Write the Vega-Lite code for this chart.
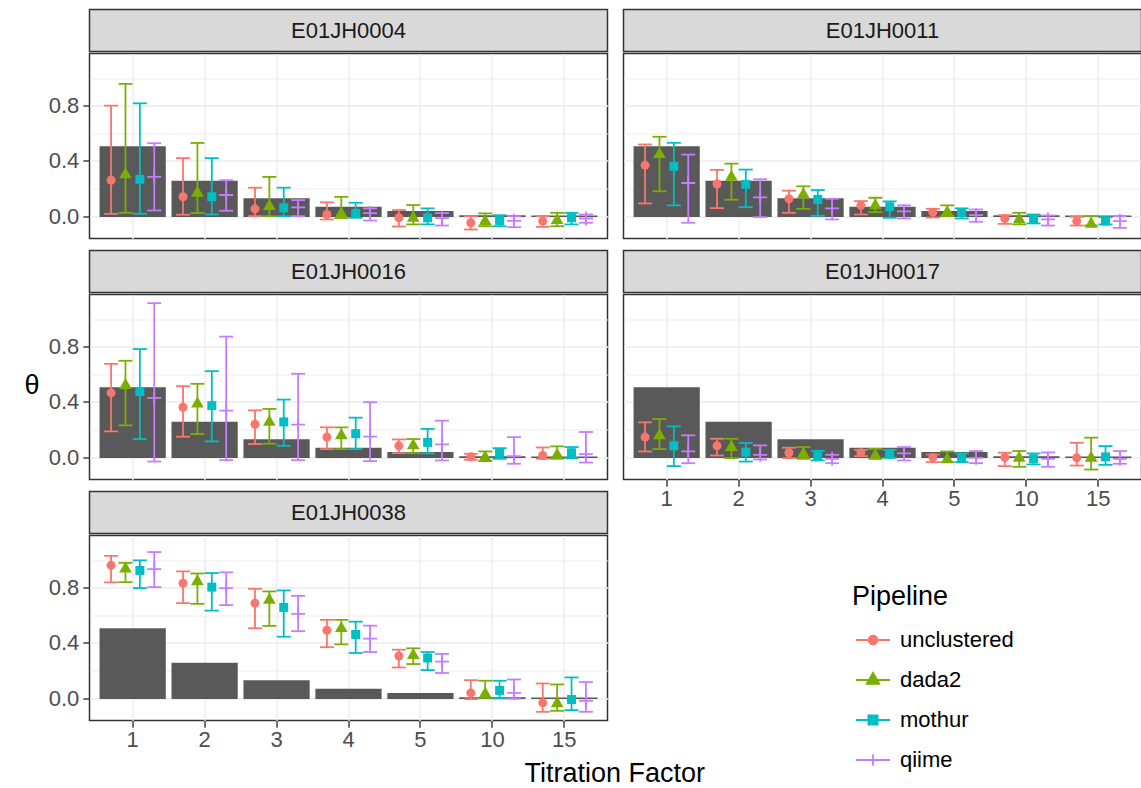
{
"$schema": "https://vega.github.io/schema/vega-lite/v6.json",
"padding": {"left": 22.5, "top": 8.5, "right": 0, "bottom": 0},
"datasets": {
"strips": [{"sample":"E01JH0004"},{"sample":"E01JH0011"},{"sample":"E01JH0016"},{"sample":"E01JH0017"},{"sample":"E01JH0038"}],
"expected": [{"titration":1,"expected":0.5},{"titration":2,"expected":0.25},{"titration":3,"expected":0.125},{"titration":4,"expected":0.0625},{"titration":5,"expected":0.03125},{"titration":10,"expected":0.000977},{"titration":15,"expected":0.0000305}],
"est": [
{"sample":"E01JH0004","pipeline":"unclustered","titration":1,"theta":0.26,"lo":0.017,"hi":0.8},
{"sample":"E01JH0004","pipeline":"dada2","titration":1,"theta":0.315,"lo":0.024,"hi":0.958},
{"sample":"E01JH0004","pipeline":"mothur","titration":1,"theta":0.267,"lo":0.017,"hi":0.817},
{"sample":"E01JH0004","pipeline":"qiime","titration":1,"theta":0.284,"lo":0.041,"hi":0.528},
{"sample":"E01JH0004","pipeline":"unclustered","titration":2,"theta":0.14,"lo":0.01,"hi":0.42},
{"sample":"E01JH0004","pipeline":"dada2","titration":2,"theta":0.18,"lo":0.022,"hi":0.53},
{"sample":"E01JH0004","pipeline":"mothur","titration":2,"theta":0.14,"lo":0.012,"hi":0.42},
{"sample":"E01JH0004","pipeline":"qiime","titration":2,"theta":0.153,"lo":0.039,"hi":0.26},
{"sample":"E01JH0004","pipeline":"unclustered","titration":3,"theta":0.053,"lo":0.0,"hi":0.206},
{"sample":"E01JH0004","pipeline":"dada2","titration":3,"theta":0.085,"lo":0.0,"hi":0.284},
{"sample":"E01JH0004","pipeline":"mothur","titration":3,"theta":0.06,"lo":0.0,"hi":0.206},
{"sample":"E01JH0004","pipeline":"qiime","titration":3,"theta":0.063,"lo":0.0,"hi":0.116},
{"sample":"E01JH0004","pipeline":"unclustered","titration":4,"theta":0.012,"lo":-0.024,"hi":0.1},
{"sample":"E01JH0004","pipeline":"dada2","titration":4,"theta":0.03,"lo":-0.015,"hi":0.14},
{"sample":"E01JH0004","pipeline":"mothur","titration":4,"theta":0.02,"lo":-0.012,"hi":0.097},
{"sample":"E01JH0004","pipeline":"qiime","titration":4,"theta":0.022,"lo":-0.032,"hi":0.056},
{"sample":"E01JH0004","pipeline":"unclustered","titration":5,"theta":-0.012,"lo":-0.075,"hi":0.044},
{"sample":"E01JH0004","pipeline":"dada2","titration":5,"theta":0.0,"lo":-0.06,"hi":0.08},
{"sample":"E01JH0004","pipeline":"mothur","titration":5,"theta":-0.012,"lo":-0.06,"hi":0.056},
{"sample":"E01JH0004","pipeline":"qiime","titration":5,"theta":-0.015,"lo":-0.068,"hi":0.022},
{"sample":"E01JH0004","pipeline":"unclustered","titration":10,"theta":-0.048,"lo":-0.097,"hi":0.0},
{"sample":"E01JH0004","pipeline":"dada2","titration":10,"theta":-0.024,"lo":-0.073,"hi":0.02},
{"sample":"E01JH0004","pipeline":"mothur","titration":10,"theta":-0.032,"lo":-0.073,"hi":0.007},
{"sample":"E01JH0004","pipeline":"qiime","titration":10,"theta":-0.034,"lo":-0.08,"hi":0.0},
{"sample":"E01JH0004","pipeline":"unclustered","titration":15,"theta":-0.036,"lo":-0.078,"hi":0.0},
{"sample":"E01JH0004","pipeline":"dada2","titration":15,"theta":-0.017,"lo":-0.073,"hi":0.024},
{"sample":"E01JH0004","pipeline":"mothur","titration":15,"theta":-0.012,"lo":-0.06,"hi":0.024},
{"sample":"E01JH0004","pipeline":"qiime","titration":15,"theta":-0.017,"lo":-0.048,"hi":0.012},
{"sample":"E01JH0011","pipeline":"unclustered","titration":1,"theta":0.368,"lo":0.092,"hi":0.519},
{"sample":"E01JH0011","pipeline":"dada2","titration":1,"theta":0.46,"lo":0.18,"hi":0.575},
{"sample":"E01JH0011","pipeline":"mothur","titration":1,"theta":0.361,"lo":0.078,"hi":0.531},
{"sample":"E01JH0011","pipeline":"qiime","titration":1,"theta":0.24,"lo":-0.048,"hi":0.446},
{"sample":"E01JH0011","pipeline":"unclustered","titration":2,"theta":0.233,"lo":0.058,"hi":0.335},
{"sample":"E01JH0011","pipeline":"dada2","titration":2,"theta":0.296,"lo":0.119,"hi":0.38},
{"sample":"E01JH0011","pipeline":"mothur","titration":2,"theta":0.23,"lo":0.065,"hi":0.337},
{"sample":"E01JH0011","pipeline":"qiime","titration":2,"theta":0.136,"lo":-0.007,"hi":0.267},
{"sample":"E01JH0011","pipeline":"unclustered","titration":3,"theta":0.126,"lo":0.024,"hi":0.184},
{"sample":"E01JH0011","pipeline":"dada2","titration":3,"theta":0.17,"lo":0.053,"hi":0.216},
{"sample":"E01JH0011","pipeline":"mothur","titration":3,"theta":0.121,"lo":0.002,"hi":0.189},
{"sample":"E01JH0011","pipeline":"qiime","titration":3,"theta":0.056,"lo":-0.024,"hi":0.126},
{"sample":"E01JH0011","pipeline":"unclustered","titration":4,"theta":0.078,"lo":0.012,"hi":0.109},
{"sample":"E01JH0011","pipeline":"dada2","titration":4,"theta":0.09,"lo":0.029,"hi":0.133},
{"sample":"E01JH0011","pipeline":"mothur","titration":4,"theta":0.068,"lo":-0.012,"hi":0.107},
{"sample":"E01JH0011","pipeline":"qiime","titration":4,"theta":0.034,"lo":-0.017,"hi":0.078},
{"sample":"E01JH0011","pipeline":"unclustered","titration":5,"theta":0.029,"lo":-0.01,"hi":0.053},
{"sample":"E01JH0011","pipeline":"dada2","titration":5,"theta":0.041,"lo":0.0,"hi":0.078},
{"sample":"E01JH0011","pipeline":"mothur","titration":5,"theta":0.027,"lo":-0.017,"hi":0.056},
{"sample":"E01JH0011","pipeline":"qiime","titration":5,"theta":0.007,"lo":-0.041,"hi":0.048},
{"sample":"E01JH0011","pipeline":"unclustered","titration":10,"theta":-0.017,"lo":-0.056,"hi":0.007},
{"sample":"E01JH0011","pipeline":"dada2","titration":10,"theta":-0.012,"lo":-0.06,"hi":0.024},
{"sample":"E01JH0011","pipeline":"mothur","titration":10,"theta":-0.024,"lo":-0.053,"hi":0.012},
{"sample":"E01JH0011","pipeline":"qiime","titration":10,"theta":-0.024,"lo":-0.068,"hi":0.005},
{"sample":"E01JH0011","pipeline":"unclustered","titration":15,"theta":-0.036,"lo":-0.068,"hi":-0.005},
{"sample":"E01JH0011","pipeline":"dada2","titration":15,"theta":-0.044,"lo":-0.068,"hi":0.0},
{"sample":"E01JH0011","pipeline":"mothur","titration":15,"theta":-0.036,"lo":-0.06,"hi":-0.007},
{"sample":"E01JH0011","pipeline":"qiime","titration":15,"theta":-0.036,"lo":-0.085,"hi":0.0},
{"sample":"E01JH0016","pipeline":"unclustered","titration":1,"theta":0.465,"lo":0.187,"hi":0.676},
{"sample":"E01JH0016","pipeline":"dada2","titration":1,"theta":0.533,"lo":0.23,"hi":0.698},
{"sample":"E01JH0016","pipeline":"mothur","titration":1,"theta":0.475,"lo":0.131,"hi":0.783},
{"sample":"E01JH0016","pipeline":"qiime","titration":1,"theta":0.429,"lo":-0.032,"hi":1.115},
{"sample":"E01JH0016","pipeline":"unclustered","titration":2,"theta":0.361,"lo":0.148,"hi":0.514},
{"sample":"E01JH0016","pipeline":"dada2","titration":2,"theta":0.4,"lo":0.167,"hi":0.531},
{"sample":"E01JH0016","pipeline":"mothur","titration":2,"theta":0.373,"lo":0.114,"hi":0.623},
{"sample":"E01JH0016","pipeline":"qiime","titration":2,"theta":0.337,"lo":-0.022,"hi":0.873},
{"sample":"E01JH0016","pipeline":"unclustered","titration":3,"theta":0.238,"lo":0.095,"hi":0.339},
{"sample":"E01JH0016","pipeline":"dada2","titration":3,"theta":0.267,"lo":0.097,"hi":0.349},
{"sample":"E01JH0016","pipeline":"mothur","titration":3,"theta":0.255,"lo":0.082,"hi":0.417},
{"sample":"E01JH0016","pipeline":"qiime","titration":3,"theta":0.235,"lo":-0.022,"hi":0.604},
{"sample":"E01JH0016","pipeline":"unclustered","titration":4,"theta":0.145,"lo":0.058,"hi":0.216},
{"sample":"E01JH0016","pipeline":"dada2","titration":4,"theta":0.17,"lo":0.058,"hi":0.216},
{"sample":"E01JH0016","pipeline":"mothur","titration":4,"theta":0.17,"lo":0.058,"hi":0.286},
{"sample":"E01JH0016","pipeline":"qiime","titration":4,"theta":0.148,"lo":-0.029,"hi":0.398},
{"sample":"E01JH0016","pipeline":"unclustered","titration":5,"theta":0.082,"lo":0.029,"hi":0.128},
{"sample":"E01JH0016","pipeline":"dada2","titration":5,"theta":0.097,"lo":0.029,"hi":0.131},
{"sample":"E01JH0016","pipeline":"mothur","titration":5,"theta":0.107,"lo":0.027,"hi":0.204},
{"sample":"E01JH0016","pipeline":"qiime","titration":5,"theta":0.092,"lo":-0.024,"hi":0.264},
{"sample":"E01JH0016","pipeline":"unclustered","titration":10,"theta":0.002,"lo":-0.019,"hi":0.024},
{"sample":"E01JH0016","pipeline":"dada2","titration":10,"theta":0.012,"lo":-0.029,"hi":0.041},
{"sample":"E01JH0016","pipeline":"mothur","titration":10,"theta":0.029,"lo":-0.012,"hi":0.065},
{"sample":"E01JH0016","pipeline":"qiime","titration":10,"theta":0.007,"lo":-0.048,"hi":0.145},
{"sample":"E01JH0016","pipeline":"unclustered","titration":15,"theta":0.012,"lo":-0.012,"hi":0.07},
{"sample":"E01JH0016","pipeline":"dada2","titration":15,"theta":0.029,"lo":-0.012,"hi":0.078},
{"sample":"E01JH0016","pipeline":"mothur","titration":15,"theta":0.032,"lo":-0.007,"hi":0.073},
{"sample":"E01JH0016","pipeline":"qiime","titration":15,"theta":0.022,"lo":-0.039,"hi":0.182},
{"sample":"E01JH0017","pipeline":"unclustered","titration":1,"theta":0.145,"lo":0.041,"hi":0.252},
{"sample":"E01JH0017","pipeline":"dada2","titration":1,"theta":0.17,"lo":0.058,"hi":0.276},
{"sample":"E01JH0017","pipeline":"mothur","titration":1,"theta":0.082,"lo":-0.065,"hi":0.223},
{"sample":"E01JH0017","pipeline":"qiime","titration":1,"theta":0.041,"lo":-0.044,"hi":0.158},
{"sample":"E01JH0017","pipeline":"unclustered","titration":2,"theta":0.082,"lo":0.012,"hi":0.133},
{"sample":"E01JH0017","pipeline":"dada2","titration":2,"theta":0.085,"lo":-0.007,"hi":0.133},
{"sample":"E01JH0017","pipeline":"mothur","titration":2,"theta":0.036,"lo":-0.032,"hi":0.102},
{"sample":"E01JH0017","pipeline":"qiime","titration":2,"theta":0.017,"lo":-0.017,"hi":0.085},
{"sample":"E01JH0017","pipeline":"unclustered","titration":3,"theta":0.032,"lo":-0.007,"hi":0.068},
{"sample":"E01JH0017","pipeline":"dada2","titration":3,"theta":0.036,"lo":-0.012,"hi":0.073},
{"sample":"E01JH0017","pipeline":"mothur","titration":3,"theta":0.007,"lo":-0.024,"hi":0.046},
{"sample":"E01JH0017","pipeline":"qiime","titration":3,"theta":-0.012,"lo":-0.044,"hi":0.017},
{"sample":"E01JH0017","pipeline":"unclustered","titration":4,"theta":0.032,"lo":0.007,"hi":0.053},
{"sample":"E01JH0017","pipeline":"dada2","titration":4,"theta":0.024,"lo":-0.012,"hi":0.06},
{"sample":"E01JH0017","pipeline":"mothur","titration":4,"theta":0.022,"lo":-0.005,"hi":0.053},
{"sample":"E01JH0017","pipeline":"qiime","titration":4,"theta":0.027,"lo":-0.024,"hi":0.073},
{"sample":"E01JH0017","pipeline":"unclustered","titration":5,"theta":-0.002,"lo":-0.036,"hi":0.019},
{"sample":"E01JH0017","pipeline":"dada2","titration":5,"theta":-0.005,"lo":-0.036,"hi":0.041},
{"sample":"E01JH0017","pipeline":"mothur","titration":5,"theta":-0.005,"lo":-0.036,"hi":0.027},
{"sample":"E01JH0017","pipeline":"qiime","titration":5,"theta":-0.005,"lo":-0.044,"hi":0.044},
{"sample":"E01JH0017","pipeline":"unclustered","titration":10,"theta":-0.002,"lo":-0.065,"hi":0.032},
{"sample":"E01JH0017","pipeline":"dada2","titration":10,"theta":0.007,"lo":-0.07,"hi":0.044},
{"sample":"E01JH0017","pipeline":"mothur","titration":10,"theta":-0.012,"lo":-0.053,"hi":0.027},
{"sample":"E01JH0017","pipeline":"qiime","titration":10,"theta":-0.012,"lo":-0.07,"hi":0.034},
{"sample":"E01JH0017","pipeline":"unclustered","titration":15,"theta":-0.005,"lo":-0.061,"hi":0.104},
{"sample":"E01JH0017","pipeline":"dada2","titration":15,"theta":0.007,"lo":-0.09,"hi":0.141},
{"sample":"E01JH0017","pipeline":"mothur","titration":15,"theta":0.002,"lo":-0.056,"hi":0.08},
{"sample":"E01JH0017","pipeline":"qiime","titration":15,"theta":-0.012,"lo":-0.048,"hi":0.044},
{"sample":"E01JH0038","pipeline":"unclustered","titration":1,"theta":0.962,"lo":0.839,"hi":1.03},
{"sample":"E01JH0038","pipeline":"dada2","titration":1,"theta":0.95,"lo":0.84,"hi":0.98},
{"sample":"E01JH0038","pipeline":"mothur","titration":1,"theta":0.925,"lo":0.797,"hi":0.998},
{"sample":"E01JH0038","pipeline":"qiime","titration":1,"theta":0.935,"lo":0.804,"hi":1.058},
{"sample":"E01JH0038","pipeline":"unclustered","titration":2,"theta":0.833,"lo":0.688,"hi":0.918},
{"sample":"E01JH0038","pipeline":"dada2","titration":2,"theta":0.857,"lo":0.683,"hi":0.903},
{"sample":"E01JH0038","pipeline":"mothur","titration":2,"theta":0.804,"lo":0.634,"hi":0.906},
{"sample":"E01JH0038","pipeline":"qiime","titration":2,"theta":0.797,"lo":0.674,"hi":0.911},
{"sample":"E01JH0038","pipeline":"unclustered","titration":3,"theta":0.688,"lo":0.506,"hi":0.792},
{"sample":"E01JH0038","pipeline":"dada2","titration":3,"theta":0.724,"lo":0.523,"hi":0.773},
{"sample":"E01JH0038","pipeline":"mothur","titration":3,"theta":0.657,"lo":0.445,"hi":0.78},
{"sample":"E01JH0038","pipeline":"qiime","titration":3,"theta":0.61,"lo":0.485,"hi":0.741},
{"sample":"E01JH0038","pipeline":"unclustered","titration":4,"theta":0.492,"lo":0.369,"hi":0.567},
{"sample":"E01JH0038","pipeline":"dada2","titration":4,"theta":0.518,"lo":0.39,"hi":0.567},
{"sample":"E01JH0038","pipeline":"mothur","titration":4,"theta":0.461,"lo":0.327,"hi":0.554},
{"sample":"E01JH0038","pipeline":"qiime","titration":4,"theta":0.431,"lo":0.334,"hi":0.525},
{"sample":"E01JH0038","pipeline":"unclustered","titration":5,"theta":0.305,"lo":0.222,"hi":0.351},
{"sample":"E01JH0038","pipeline":"dada2","titration":5,"theta":0.324,"lo":0.247,"hi":0.361},
{"sample":"E01JH0038","pipeline":"mothur","titration":5,"theta":0.291,"lo":0.203,"hi":0.334},
{"sample":"E01JH0038","pipeline":"qiime","titration":5,"theta":0.264,"lo":0.182,"hi":0.32},
{"sample":"E01JH0038","pipeline":"unclustered","titration":10,"theta":0.038,"lo":-0.007,"hi":0.13},
{"sample":"E01JH0038","pipeline":"dada2","titration":10,"theta":0.045,"lo":0.002,"hi":0.126},
{"sample":"E01JH0038","pipeline":"mothur","titration":10,"theta":0.056,"lo":-0.002,"hi":0.126},
{"sample":"E01JH0038","pipeline":"qiime","titration":10,"theta":0.038,"lo":-0.005,"hi":0.135},
{"sample":"E01JH0038","pipeline":"unclustered","titration":15,"theta":-0.034,"lo":-0.099,"hi":0.106},
{"sample":"E01JH0038","pipeline":"dada2","titration":15,"theta":-0.026,"lo":-0.092,"hi":0.099},
{"sample":"E01JH0038","pipeline":"mothur","titration":15,"theta":-0.01,"lo":-0.087,"hi":0.15},
{"sample":"E01JH0038","pipeline":"qiime","titration":15,"theta":-0.019,"lo":-0.099,"hi":0.116}
]
},
"title": {"text": "Titration Factor", "orient": "bottom", "anchor": "middle", "fontSize": 27, "fontWeight": "normal", "color": "#000000", "offset": -10, "dx": 32},
"spacing": 14,
"hconcat": [
{"spacing": 0, "vconcat": [
 {"data": {"name": "strips"}, "transform": [{"filter": "datum.sample === 'E01JH0004'"}], "width": 518, "height": 42, "view": {"fill": "#D9D9D9", "stroke": "#333333", "strokeWidth": 1.5}, "mark": {"type": "text", "fontSize": 22, "color": "#1A1A1A"}, "encoding": {"text": {"field": "sample", "type": "nominal"}}},
 {"width": 518, "height": 185,
  "encoding": {"x": {"field": "titration", "type": "ordinal", "title": null, "scale": {"type": "band", "paddingInner": 0.1, "paddingOuter": 0.15}, "axis": {"labels": false, "ticks": true, "tickSize": 10, "tickOpacity": 0, "grid": true, "bandPosition": 0.5}}},
  "layer": [
   {"data": {"name": "expected"}, "mark": {"type": "bar", "color": "#595959", "stroke": "#595959", "strokeWidth": 1.5}, "encoding": {"y": {"field": "expected", "type": "quantitative", "scale": {"domain": [-0.162, 1.178], "nice": false, "zero": false}, "axis": {"title": null, "values": [0, 0.2, 0.4, 0.6, 0.8, 1], "labelExpr": "round(datum.value*5) % 2 === 0 ? format(datum.value, '.1f') : ''", "tickOpacity": {"condition": {"test": "round(datum.value*5) % 2 === 0", "value": 1}, "value": 0}, "gridWidth": {"condition": {"test": "round(datum.value*5) % 2 === 0", "value": 1.4}, "value": 0.9}}}, "y2": {"datum": 0}}},
   {"data": {"name": "est"}, "transform": [{"filter": "datum.sample === 'E01JH0004'"}],
    "encoding": {"xOffset": {"field": "pipeline", "type": "nominal", "scale": {"domain": ["unclustered","dada2","mothur","qiime"], "paddingInner": 0, "paddingOuter": 0.25}},
     "color": {"field": "pipeline", "type": "nominal", "scale": {"domain": ["unclustered","dada2","mothur","qiime"], "range": ["#F8766D","#7CAE00","#00BFC4","#C77CFF"]},
      "legend": {"title": "Pipeline", "orient": "none", "legendX": 762.5, "legendY": 574.5, "padding": 0, "titleFontSize": 27, "titleFontWeight": "normal", "titleColor": "#000000", "titlePadding": 11, "labelFontSize": 22, "labelColor": "#000000", "labelOffset": 9, "symbolSize": 1156, "symbolOffset": 3, "symbolStrokeWidth": 1.5, "rowPadding": 11,
       "encode": {"symbols": {"update": {"shape": {"signal": "datum.value === 'unclustered' ? 'M-1,0L1,0M-0.26,0A0.26,0.26,0,1,1,0.26,0A0.26,0.26,0,1,1,-0.26,0Z' : datum.value === 'dada2' ? 'M-1,0L1,0M0,-0.42L0.37,0.22L-0.37,0.22Z' : datum.value === 'mothur' ? 'M-1,0L1,0M-0.27,-0.27L0.27,-0.27L0.27,0.27L-0.27,0.27Z' : 'M-1,0L1,0M0,-0.34L0,0.34'"}, "fill": {"scale": "color", "field": "value"}, "stroke": {"scale": "color", "field": "value"}, "strokeWidth": {"value": 1.8}, "opacity": {"value": 1}}}}}}},
    "layer": [
     {"mark": {"type": "rule", "strokeWidth": 1.8}, "encoding": {"y": {"field": "lo", "type": "quantitative", "axis": {"title": null, "values": [0, 0.2, 0.4, 0.6, 0.8, 1], "labelExpr": "round(datum.value*5) % 2 === 0 ? format(datum.value, '.1f') : ''", "tickOpacity": {"condition": {"test": "round(datum.value*5) % 2 === 0", "value": 1}, "value": 0}, "gridWidth": {"condition": {"test": "round(datum.value*5) % 2 === 0", "value": 1.4}, "value": 0.9}}}, "y2": {"field": "hi"}}},
     {"mark": {"type": "tick", "thickness": 1.8, "size": 14, "opacity": 1}, "encoding": {"y": {"field": "lo", "type": "quantitative", "axis": {"title": null, "values": [0, 0.2, 0.4, 0.6, 0.8, 1], "labelExpr": "round(datum.value*5) % 2 === 0 ? format(datum.value, '.1f') : ''", "tickOpacity": {"condition": {"test": "round(datum.value*5) % 2 === 0", "value": 1}, "value": 0}, "gridWidth": {"condition": {"test": "round(datum.value*5) % 2 === 0", "value": 1.4}, "value": 0.9}}}}},
     {"mark": {"type": "tick", "thickness": 1.8, "size": 14, "opacity": 1}, "encoding": {"y": {"field": "hi", "type": "quantitative", "axis": {"title": null, "values": [0, 0.2, 0.4, 0.6, 0.8, 1], "labelExpr": "round(datum.value*5) % 2 === 0 ? format(datum.value, '.1f') : ''", "tickOpacity": {"condition": {"test": "round(datum.value*5) % 2 === 0", "value": 1}, "value": 0}, "gridWidth": {"condition": {"test": "round(datum.value*5) % 2 === 0", "value": 1.4}, "value": 0.9}}}}},
     {"transform": [{"filter": "datum.pipeline === 'unclustered'"}], "mark": {"type": "point", "shape": "circle", "size": 81, "filled": true, "opacity": 1}, "encoding": {"y": {"field": "theta", "type": "quantitative", "axis": {"title": null, "values": [0, 0.2, 0.4, 0.6, 0.8, 1], "labelExpr": "round(datum.value*5) % 2 === 0 ? format(datum.value, '.1f') : ''", "tickOpacity": {"condition": {"test": "round(datum.value*5) % 2 === 0", "value": 1}, "value": 0}, "gridWidth": {"condition": {"test": "round(datum.value*5) % 2 === 0", "value": 1.4}, "value": 0.9}}}}},
     {"transform": [{"filter": "datum.pipeline === 'dada2'"}], "mark": {"type": "point", "shape": "triangle-up", "size": 161, "filled": true, "opacity": 1}, "encoding": {"y": {"field": "theta", "type": "quantitative", "axis": {"title": null, "values": [0, 0.2, 0.4, 0.6, 0.8, 1], "labelExpr": "round(datum.value*5) % 2 === 0 ? format(datum.value, '.1f') : ''", "tickOpacity": {"condition": {"test": "round(datum.value*5) % 2 === 0", "value": 1}, "value": 0}, "gridWidth": {"condition": {"test": "round(datum.value*5) % 2 === 0", "value": 1.4}, "value": 0.9}}}}},
     {"transform": [{"filter": "datum.pipeline === 'mothur'"}], "mark": {"type": "point", "shape": "square", "size": 81, "filled": true, "opacity": 1}, "encoding": {"y": {"field": "theta", "type": "quantitative", "axis": {"title": null, "values": [0, 0.2, 0.4, 0.6, 0.8, 1], "labelExpr": "round(datum.value*5) % 2 === 0 ? format(datum.value, '.1f') : ''", "tickOpacity": {"condition": {"test": "round(datum.value*5) % 2 === 0", "value": 1}, "value": 0}, "gridWidth": {"condition": {"test": "round(datum.value*5) % 2 === 0", "value": 1.4}, "value": 0.9}}}}},
     {"transform": [{"filter": "datum.pipeline === 'qiime'"}], "mark": {"type": "point", "shape": "M-1,0L1,0M0,-1L0,1", "size": 196, "filled": false, "strokeWidth": 1.8, "opacity": 1}, "encoding": {"y": {"field": "theta", "type": "quantitative", "axis": {"title": null, "values": [0, 0.2, 0.4, 0.6, 0.8, 1], "labelExpr": "round(datum.value*5) % 2 === 0 ? format(datum.value, '.1f') : ''", "tickOpacity": {"condition": {"test": "round(datum.value*5) % 2 === 0", "value": 1}, "value": 0}, "gridWidth": {"condition": {"test": "round(datum.value*5) % 2 === 0", "value": 1.4}, "value": 0.9}}}}}
    ]}
  ]},
 {"data": {"name": "strips"}, "transform": [{"filter": "datum.sample === 'E01JH0016'"}], "width": 518, "height": 42, "view": {"fill": "#D9D9D9", "stroke": "#333333", "strokeWidth": 1.5}, "mark": {"type": "text", "fontSize": 22, "color": "#1A1A1A"}, "encoding": {"text": {"field": "sample", "type": "nominal"}}},
 {"width": 518, "height": 185,
  "encoding": {"x": {"field": "titration", "type": "ordinal", "title": null, "scale": {"type": "band", "paddingInner": 0.1, "paddingOuter": 0.15}, "axis": {"labels": false, "ticks": true, "tickSize": 10, "tickOpacity": 0, "grid": true, "bandPosition": 0.5}}},
  "layer": [
   {"data": {"name": "expected"}, "mark": {"type": "bar", "color": "#595959", "stroke": "#595959", "strokeWidth": 1.5}, "encoding": {"y": {"field": "expected", "type": "quantitative", "scale": {"domain": [-0.162, 1.178], "nice": false, "zero": false}, "axis": {"title": "θ", "titleX": -58, "titleY": 91, "titleAngle": 0, "titleAlign": "center", "titleBaseline": "middle", "values": [0, 0.2, 0.4, 0.6, 0.8, 1], "labelExpr": "round(datum.value*5) % 2 === 0 ? format(datum.value, '.1f') : ''", "tickOpacity": {"condition": {"test": "round(datum.value*5) % 2 === 0", "value": 1}, "value": 0}, "gridWidth": {"condition": {"test": "round(datum.value*5) % 2 === 0", "value": 1.4}, "value": 0.9}}}, "y2": {"datum": 0}}},
   {"data": {"name": "est"}, "transform": [{"filter": "datum.sample === 'E01JH0016'"}],
    "encoding": {"xOffset": {"field": "pipeline", "type": "nominal", "scale": {"domain": ["unclustered","dada2","mothur","qiime"], "paddingInner": 0, "paddingOuter": 0.25}},
     "color": {"field": "pipeline", "type": "nominal", "scale": {"domain": ["unclustered","dada2","mothur","qiime"], "range": ["#F8766D","#7CAE00","#00BFC4","#C77CFF"]}, "legend": null}},
    "layer": [
     {"mark": {"type": "rule", "strokeWidth": 1.8}, "encoding": {"y": {"field": "lo", "type": "quantitative", "axis": {"title": "θ", "titleX": -58, "titleY": 91, "titleAngle": 0, "titleAlign": "center", "titleBaseline": "middle", "values": [0, 0.2, 0.4, 0.6, 0.8, 1], "labelExpr": "round(datum.value*5) % 2 === 0 ? format(datum.value, '.1f') : ''", "tickOpacity": {"condition": {"test": "round(datum.value*5) % 2 === 0", "value": 1}, "value": 0}, "gridWidth": {"condition": {"test": "round(datum.value*5) % 2 === 0", "value": 1.4}, "value": 0.9}}}, "y2": {"field": "hi"}}},
     {"mark": {"type": "tick", "thickness": 1.8, "size": 14, "opacity": 1}, "encoding": {"y": {"field": "lo", "type": "quantitative", "axis": {"title": "θ", "titleX": -58, "titleY": 91, "titleAngle": 0, "titleAlign": "center", "titleBaseline": "middle", "values": [0, 0.2, 0.4, 0.6, 0.8, 1], "labelExpr": "round(datum.value*5) % 2 === 0 ? format(datum.value, '.1f') : ''", "tickOpacity": {"condition": {"test": "round(datum.value*5) % 2 === 0", "value": 1}, "value": 0}, "gridWidth": {"condition": {"test": "round(datum.value*5) % 2 === 0", "value": 1.4}, "value": 0.9}}}}},
     {"mark": {"type": "tick", "thickness": 1.8, "size": 14, "opacity": 1}, "encoding": {"y": {"field": "hi", "type": "quantitative", "axis": {"title": "θ", "titleX": -58, "titleY": 91, "titleAngle": 0, "titleAlign": "center", "titleBaseline": "middle", "values": [0, 0.2, 0.4, 0.6, 0.8, 1], "labelExpr": "round(datum.value*5) % 2 === 0 ? format(datum.value, '.1f') : ''", "tickOpacity": {"condition": {"test": "round(datum.value*5) % 2 === 0", "value": 1}, "value": 0}, "gridWidth": {"condition": {"test": "round(datum.value*5) % 2 === 0", "value": 1.4}, "value": 0.9}}}}},
     {"transform": [{"filter": "datum.pipeline === 'unclustered'"}], "mark": {"type": "point", "shape": "circle", "size": 81, "filled": true, "opacity": 1}, "encoding": {"y": {"field": "theta", "type": "quantitative", "axis": {"title": "θ", "titleX": -58, "titleY": 91, "titleAngle": 0, "titleAlign": "center", "titleBaseline": "middle", "values": [0, 0.2, 0.4, 0.6, 0.8, 1], "labelExpr": "round(datum.value*5) % 2 === 0 ? format(datum.value, '.1f') : ''", "tickOpacity": {"condition": {"test": "round(datum.value*5) % 2 === 0", "value": 1}, "value": 0}, "gridWidth": {"condition": {"test": "round(datum.value*5) % 2 === 0", "value": 1.4}, "value": 0.9}}}}},
     {"transform": [{"filter": "datum.pipeline === 'dada2'"}], "mark": {"type": "point", "shape": "triangle-up", "size": 161, "filled": true, "opacity": 1}, "encoding": {"y": {"field": "theta", "type": "quantitative", "axis": {"title": "θ", "titleX": -58, "titleY": 91, "titleAngle": 0, "titleAlign": "center", "titleBaseline": "middle", "values": [0, 0.2, 0.4, 0.6, 0.8, 1], "labelExpr": "round(datum.value*5) % 2 === 0 ? format(datum.value, '.1f') : ''", "tickOpacity": {"condition": {"test": "round(datum.value*5) % 2 === 0", "value": 1}, "value": 0}, "gridWidth": {"condition": {"test": "round(datum.value*5) % 2 === 0", "value": 1.4}, "value": 0.9}}}}},
     {"transform": [{"filter": "datum.pipeline === 'mothur'"}], "mark": {"type": "point", "shape": "square", "size": 81, "filled": true, "opacity": 1}, "encoding": {"y": {"field": "theta", "type": "quantitative", "axis": {"title": "θ", "titleX": -58, "titleY": 91, "titleAngle": 0, "titleAlign": "center", "titleBaseline": "middle", "values": [0, 0.2, 0.4, 0.6, 0.8, 1], "labelExpr": "round(datum.value*5) % 2 === 0 ? format(datum.value, '.1f') : ''", "tickOpacity": {"condition": {"test": "round(datum.value*5) % 2 === 0", "value": 1}, "value": 0}, "gridWidth": {"condition": {"test": "round(datum.value*5) % 2 === 0", "value": 1.4}, "value": 0.9}}}}},
     {"transform": [{"filter": "datum.pipeline === 'qiime'"}], "mark": {"type": "point", "shape": "M-1,0L1,0M0,-1L0,1", "size": 196, "filled": false, "strokeWidth": 1.8, "opacity": 1}, "encoding": {"y": {"field": "theta", "type": "quantitative", "axis": {"title": "θ", "titleX": -58, "titleY": 91, "titleAngle": 0, "titleAlign": "center", "titleBaseline": "middle", "values": [0, 0.2, 0.4, 0.6, 0.8, 1], "labelExpr": "round(datum.value*5) % 2 === 0 ? format(datum.value, '.1f') : ''", "tickOpacity": {"condition": {"test": "round(datum.value*5) % 2 === 0", "value": 1}, "value": 0}, "gridWidth": {"condition": {"test": "round(datum.value*5) % 2 === 0", "value": 1.4}, "value": 0.9}}}}}
    ]}
  ]},
 {"data": {"name": "strips"}, "transform": [{"filter": "datum.sample === 'E01JH0038'"}], "width": 518, "height": 42, "view": {"fill": "#D9D9D9", "stroke": "#333333", "strokeWidth": 1.5}, "mark": {"type": "text", "fontSize": 22, "color": "#1A1A1A"}, "encoding": {"text": {"field": "sample", "type": "nominal"}}},
 {"width": 518, "height": 185,
  "encoding": {"x": {"field": "titration", "type": "ordinal", "title": null, "scale": {"type": "band", "paddingInner": 0.1, "paddingOuter": 0.15}, "axis": {"labels": true, "ticks": true, "labelAngle": 0, "labelPadding": 2, "grid": true, "bandPosition": 0.5}}},
  "layer": [
   {"data": {"name": "expected"}, "mark": {"type": "bar", "color": "#595959", "stroke": "#595959", "strokeWidth": 1.5}, "encoding": {"y": {"field": "expected", "type": "quantitative", "scale": {"domain": [-0.162, 1.178], "nice": false, "zero": false}, "axis": {"title": null, "values": [0, 0.2, 0.4, 0.6, 0.8, 1], "labelExpr": "round(datum.value*5) % 2 === 0 ? format(datum.value, '.1f') : ''", "tickOpacity": {"condition": {"test": "round(datum.value*5) % 2 === 0", "value": 1}, "value": 0}, "gridWidth": {"condition": {"test": "round(datum.value*5) % 2 === 0", "value": 1.4}, "value": 0.9}}}, "y2": {"datum": 0}}},
   {"data": {"name": "est"}, "transform": [{"filter": "datum.sample === 'E01JH0038'"}],
    "encoding": {"xOffset": {"field": "pipeline", "type": "nominal", "scale": {"domain": ["unclustered","dada2","mothur","qiime"], "paddingInner": 0, "paddingOuter": 0.25}},
     "color": {"field": "pipeline", "type": "nominal", "scale": {"domain": ["unclustered","dada2","mothur","qiime"], "range": ["#F8766D","#7CAE00","#00BFC4","#C77CFF"]}, "legend": null}},
    "layer": [
     {"mark": {"type": "rule", "strokeWidth": 1.8}, "encoding": {"y": {"field": "lo", "type": "quantitative", "axis": {"title": null, "values": [0, 0.2, 0.4, 0.6, 0.8, 1], "labelExpr": "round(datum.value*5) % 2 === 0 ? format(datum.value, '.1f') : ''", "tickOpacity": {"condition": {"test": "round(datum.value*5) % 2 === 0", "value": 1}, "value": 0}, "gridWidth": {"condition": {"test": "round(datum.value*5) % 2 === 0", "value": 1.4}, "value": 0.9}}}, "y2": {"field": "hi"}}},
     {"mark": {"type": "tick", "thickness": 1.8, "size": 14, "opacity": 1}, "encoding": {"y": {"field": "lo", "type": "quantitative", "axis": {"title": null, "values": [0, 0.2, 0.4, 0.6, 0.8, 1], "labelExpr": "round(datum.value*5) % 2 === 0 ? format(datum.value, '.1f') : ''", "tickOpacity": {"condition": {"test": "round(datum.value*5) % 2 === 0", "value": 1}, "value": 0}, "gridWidth": {"condition": {"test": "round(datum.value*5) % 2 === 0", "value": 1.4}, "value": 0.9}}}}},
     {"mark": {"type": "tick", "thickness": 1.8, "size": 14, "opacity": 1}, "encoding": {"y": {"field": "hi", "type": "quantitative", "axis": {"title": null, "values": [0, 0.2, 0.4, 0.6, 0.8, 1], "labelExpr": "round(datum.value*5) % 2 === 0 ? format(datum.value, '.1f') : ''", "tickOpacity": {"condition": {"test": "round(datum.value*5) % 2 === 0", "value": 1}, "value": 0}, "gridWidth": {"condition": {"test": "round(datum.value*5) % 2 === 0", "value": 1.4}, "value": 0.9}}}}},
     {"transform": [{"filter": "datum.pipeline === 'unclustered'"}], "mark": {"type": "point", "shape": "circle", "size": 81, "filled": true, "opacity": 1}, "encoding": {"y": {"field": "theta", "type": "quantitative", "axis": {"title": null, "values": [0, 0.2, 0.4, 0.6, 0.8, 1], "labelExpr": "round(datum.value*5) % 2 === 0 ? format(datum.value, '.1f') : ''", "tickOpacity": {"condition": {"test": "round(datum.value*5) % 2 === 0", "value": 1}, "value": 0}, "gridWidth": {"condition": {"test": "round(datum.value*5) % 2 === 0", "value": 1.4}, "value": 0.9}}}}},
     {"transform": [{"filter": "datum.pipeline === 'dada2'"}], "mark": {"type": "point", "shape": "triangle-up", "size": 161, "filled": true, "opacity": 1}, "encoding": {"y": {"field": "theta", "type": "quantitative", "axis": {"title": null, "values": [0, 0.2, 0.4, 0.6, 0.8, 1], "labelExpr": "round(datum.value*5) % 2 === 0 ? format(datum.value, '.1f') : ''", "tickOpacity": {"condition": {"test": "round(datum.value*5) % 2 === 0", "value": 1}, "value": 0}, "gridWidth": {"condition": {"test": "round(datum.value*5) % 2 === 0", "value": 1.4}, "value": 0.9}}}}},
     {"transform": [{"filter": "datum.pipeline === 'mothur'"}], "mark": {"type": "point", "shape": "square", "size": 81, "filled": true, "opacity": 1}, "encoding": {"y": {"field": "theta", "type": "quantitative", "axis": {"title": null, "values": [0, 0.2, 0.4, 0.6, 0.8, 1], "labelExpr": "round(datum.value*5) % 2 === 0 ? format(datum.value, '.1f') : ''", "tickOpacity": {"condition": {"test": "round(datum.value*5) % 2 === 0", "value": 1}, "value": 0}, "gridWidth": {"condition": {"test": "round(datum.value*5) % 2 === 0", "value": 1.4}, "value": 0.9}}}}},
     {"transform": [{"filter": "datum.pipeline === 'qiime'"}], "mark": {"type": "point", "shape": "M-1,0L1,0M0,-1L0,1", "size": 196, "filled": false, "strokeWidth": 1.8, "opacity": 1}, "encoding": {"y": {"field": "theta", "type": "quantitative", "axis": {"title": null, "values": [0, 0.2, 0.4, 0.6, 0.8, 1], "labelExpr": "round(datum.value*5) % 2 === 0 ? format(datum.value, '.1f') : ''", "tickOpacity": {"condition": {"test": "round(datum.value*5) % 2 === 0", "value": 1}, "value": 0}, "gridWidth": {"condition": {"test": "round(datum.value*5) % 2 === 0", "value": 1.4}, "value": 0.9}}}}}
    ]}
  ]}
]},
{"spacing": 0, "vconcat": [
 {"data": {"name": "strips"}, "transform": [{"filter": "datum.sample === 'E01JH0011'"}], "width": 518, "height": 42, "view": {"fill": "#D9D9D9", "stroke": "#333333", "strokeWidth": 1.5}, "mark": {"type": "text", "fontSize": 22, "color": "#1A1A1A"}, "encoding": {"text": {"field": "sample", "type": "nominal"}}},
 {"width": 518, "height": 185,
  "encoding": {"x": {"field": "titration", "type": "ordinal", "title": null, "scale": {"type": "band", "paddingInner": 0.1, "paddingOuter": 0.15}, "axis": {"labels": false, "ticks": true, "tickSize": 10, "tickOpacity": 0, "grid": true, "bandPosition": 0.5}}},
  "layer": [
   {"data": {"name": "expected"}, "mark": {"type": "bar", "color": "#595959", "stroke": "#595959", "strokeWidth": 1.5}, "encoding": {"y": {"field": "expected", "type": "quantitative", "scale": {"domain": [-0.162, 1.178], "nice": false, "zero": false}, "axis": {"title": null, "values": [0, 0.2, 0.4, 0.6, 0.8, 1], "labels": false, "ticks": false, "gridWidth": {"condition": {"test": "round(datum.value*5) % 2 === 0", "value": 1.4}, "value": 0.9}}}, "y2": {"datum": 0}}},
   {"data": {"name": "est"}, "transform": [{"filter": "datum.sample === 'E01JH0011'"}],
    "encoding": {"xOffset": {"field": "pipeline", "type": "nominal", "scale": {"domain": ["unclustered","dada2","mothur","qiime"], "paddingInner": 0, "paddingOuter": 0.25}},
     "color": {"field": "pipeline", "type": "nominal", "scale": {"domain": ["unclustered","dada2","mothur","qiime"], "range": ["#F8766D","#7CAE00","#00BFC4","#C77CFF"]}, "legend": null}},
    "layer": [
     {"mark": {"type": "rule", "strokeWidth": 1.8}, "encoding": {"y": {"field": "lo", "type": "quantitative", "axis": {"title": null, "values": [0, 0.2, 0.4, 0.6, 0.8, 1], "labels": false, "ticks": false, "gridWidth": {"condition": {"test": "round(datum.value*5) % 2 === 0", "value": 1.4}, "value": 0.9}}}, "y2": {"field": "hi"}}},
     {"mark": {"type": "tick", "thickness": 1.8, "size": 14, "opacity": 1}, "encoding": {"y": {"field": "lo", "type": "quantitative", "axis": {"title": null, "values": [0, 0.2, 0.4, 0.6, 0.8, 1], "labels": false, "ticks": false, "gridWidth": {"condition": {"test": "round(datum.value*5) % 2 === 0", "value": 1.4}, "value": 0.9}}}}},
     {"mark": {"type": "tick", "thickness": 1.8, "size": 14, "opacity": 1}, "encoding": {"y": {"field": "hi", "type": "quantitative", "axis": {"title": null, "values": [0, 0.2, 0.4, 0.6, 0.8, 1], "labels": false, "ticks": false, "gridWidth": {"condition": {"test": "round(datum.value*5) % 2 === 0", "value": 1.4}, "value": 0.9}}}}},
     {"transform": [{"filter": "datum.pipeline === 'unclustered'"}], "mark": {"type": "point", "shape": "circle", "size": 81, "filled": true, "opacity": 1}, "encoding": {"y": {"field": "theta", "type": "quantitative", "axis": {"title": null, "values": [0, 0.2, 0.4, 0.6, 0.8, 1], "labels": false, "ticks": false, "gridWidth": {"condition": {"test": "round(datum.value*5) % 2 === 0", "value": 1.4}, "value": 0.9}}}}},
     {"transform": [{"filter": "datum.pipeline === 'dada2'"}], "mark": {"type": "point", "shape": "triangle-up", "size": 161, "filled": true, "opacity": 1}, "encoding": {"y": {"field": "theta", "type": "quantitative", "axis": {"title": null, "values": [0, 0.2, 0.4, 0.6, 0.8, 1], "labels": false, "ticks": false, "gridWidth": {"condition": {"test": "round(datum.value*5) % 2 === 0", "value": 1.4}, "value": 0.9}}}}},
     {"transform": [{"filter": "datum.pipeline === 'mothur'"}], "mark": {"type": "point", "shape": "square", "size": 81, "filled": true, "opacity": 1}, "encoding": {"y": {"field": "theta", "type": "quantitative", "axis": {"title": null, "values": [0, 0.2, 0.4, 0.6, 0.8, 1], "labels": false, "ticks": false, "gridWidth": {"condition": {"test": "round(datum.value*5) % 2 === 0", "value": 1.4}, "value": 0.9}}}}},
     {"transform": [{"filter": "datum.pipeline === 'qiime'"}], "mark": {"type": "point", "shape": "M-1,0L1,0M0,-1L0,1", "size": 196, "filled": false, "strokeWidth": 1.8, "opacity": 1}, "encoding": {"y": {"field": "theta", "type": "quantitative", "axis": {"title": null, "values": [0, 0.2, 0.4, 0.6, 0.8, 1], "labels": false, "ticks": false, "gridWidth": {"condition": {"test": "round(datum.value*5) % 2 === 0", "value": 1.4}, "value": 0.9}}}}}
    ]}
  ]},
 {"data": {"name": "strips"}, "transform": [{"filter": "datum.sample === 'E01JH0017'"}], "width": 518, "height": 42, "view": {"fill": "#D9D9D9", "stroke": "#333333", "strokeWidth": 1.5}, "mark": {"type": "text", "fontSize": 22, "color": "#1A1A1A"}, "encoding": {"text": {"field": "sample", "type": "nominal"}}},
 {"width": 518, "height": 185,
  "encoding": {"x": {"field": "titration", "type": "ordinal", "title": null, "scale": {"type": "band", "paddingInner": 0.1, "paddingOuter": 0.15}, "axis": {"labels": true, "ticks": true, "labelAngle": 0, "labelPadding": 2, "grid": true, "bandPosition": 0.5}}},
  "layer": [
   {"data": {"name": "expected"}, "mark": {"type": "bar", "color": "#595959", "stroke": "#595959", "strokeWidth": 1.5}, "encoding": {"y": {"field": "expected", "type": "quantitative", "scale": {"domain": [-0.162, 1.178], "nice": false, "zero": false}, "axis": {"title": null, "values": [0, 0.2, 0.4, 0.6, 0.8, 1], "labels": false, "ticks": false, "gridWidth": {"condition": {"test": "round(datum.value*5) % 2 === 0", "value": 1.4}, "value": 0.9}}}, "y2": {"datum": 0}}},
   {"data": {"name": "est"}, "transform": [{"filter": "datum.sample === 'E01JH0017'"}],
    "encoding": {"xOffset": {"field": "pipeline", "type": "nominal", "scale": {"domain": ["unclustered","dada2","mothur","qiime"], "paddingInner": 0, "paddingOuter": 0.25}},
     "color": {"field": "pipeline", "type": "nominal", "scale": {"domain": ["unclustered","dada2","mothur","qiime"], "range": ["#F8766D","#7CAE00","#00BFC4","#C77CFF"]}, "legend": null}},
    "layer": [
     {"mark": {"type": "rule", "strokeWidth": 1.8}, "encoding": {"y": {"field": "lo", "type": "quantitative", "axis": {"title": null, "values": [0, 0.2, 0.4, 0.6, 0.8, 1], "labels": false, "ticks": false, "gridWidth": {"condition": {"test": "round(datum.value*5) % 2 === 0", "value": 1.4}, "value": 0.9}}}, "y2": {"field": "hi"}}},
     {"mark": {"type": "tick", "thickness": 1.8, "size": 14, "opacity": 1}, "encoding": {"y": {"field": "lo", "type": "quantitative", "axis": {"title": null, "values": [0, 0.2, 0.4, 0.6, 0.8, 1], "labels": false, "ticks": false, "gridWidth": {"condition": {"test": "round(datum.value*5) % 2 === 0", "value": 1.4}, "value": 0.9}}}}},
     {"mark": {"type": "tick", "thickness": 1.8, "size": 14, "opacity": 1}, "encoding": {"y": {"field": "hi", "type": "quantitative", "axis": {"title": null, "values": [0, 0.2, 0.4, 0.6, 0.8, 1], "labels": false, "ticks": false, "gridWidth": {"condition": {"test": "round(datum.value*5) % 2 === 0", "value": 1.4}, "value": 0.9}}}}},
     {"transform": [{"filter": "datum.pipeline === 'unclustered'"}], "mark": {"type": "point", "shape": "circle", "size": 81, "filled": true, "opacity": 1}, "encoding": {"y": {"field": "theta", "type": "quantitative", "axis": {"title": null, "values": [0, 0.2, 0.4, 0.6, 0.8, 1], "labels": false, "ticks": false, "gridWidth": {"condition": {"test": "round(datum.value*5) % 2 === 0", "value": 1.4}, "value": 0.9}}}}},
     {"transform": [{"filter": "datum.pipeline === 'dada2'"}], "mark": {"type": "point", "shape": "triangle-up", "size": 161, "filled": true, "opacity": 1}, "encoding": {"y": {"field": "theta", "type": "quantitative", "axis": {"title": null, "values": [0, 0.2, 0.4, 0.6, 0.8, 1], "labels": false, "ticks": false, "gridWidth": {"condition": {"test": "round(datum.value*5) % 2 === 0", "value": 1.4}, "value": 0.9}}}}},
     {"transform": [{"filter": "datum.pipeline === 'mothur'"}], "mark": {"type": "point", "shape": "square", "size": 81, "filled": true, "opacity": 1}, "encoding": {"y": {"field": "theta", "type": "quantitative", "axis": {"title": null, "values": [0, 0.2, 0.4, 0.6, 0.8, 1], "labels": false, "ticks": false, "gridWidth": {"condition": {"test": "round(datum.value*5) % 2 === 0", "value": 1.4}, "value": 0.9}}}}},
     {"transform": [{"filter": "datum.pipeline === 'qiime'"}], "mark": {"type": "point", "shape": "M-1,0L1,0M0,-1L0,1", "size": 196, "filled": false, "strokeWidth": 1.8, "opacity": 1}, "encoding": {"y": {"field": "theta", "type": "quantitative", "axis": {"title": null, "values": [0, 0.2, 0.4, 0.6, 0.8, 1], "labels": false, "ticks": false, "gridWidth": {"condition": {"test": "round(datum.value*5) % 2 === 0", "value": 1.4}, "value": 0.9}}}}}
    ]}
  ]}
]}
],
"config": {
 "font": "Liberation Sans",
 "view": {"stroke": "#333333", "strokeWidth": 1.5},
 "axis": {"domain": false, "grid": true, "gridColor": "#EBEBEB", "gridWidth": 1.4, "tickColor": "#333333", "tickWidth": 1.4, "tickSize": 6.7, "labelColor": "#4D4D4D", "labelFontSize": 22, "labelPadding": 4, "titleFontSize": 27, "titleFontWeight": "normal", "titleColor": "#000000"},
 "legend": {"labelFont": "Liberation Sans", "titleFont": "Liberation Sans"}
}
}
